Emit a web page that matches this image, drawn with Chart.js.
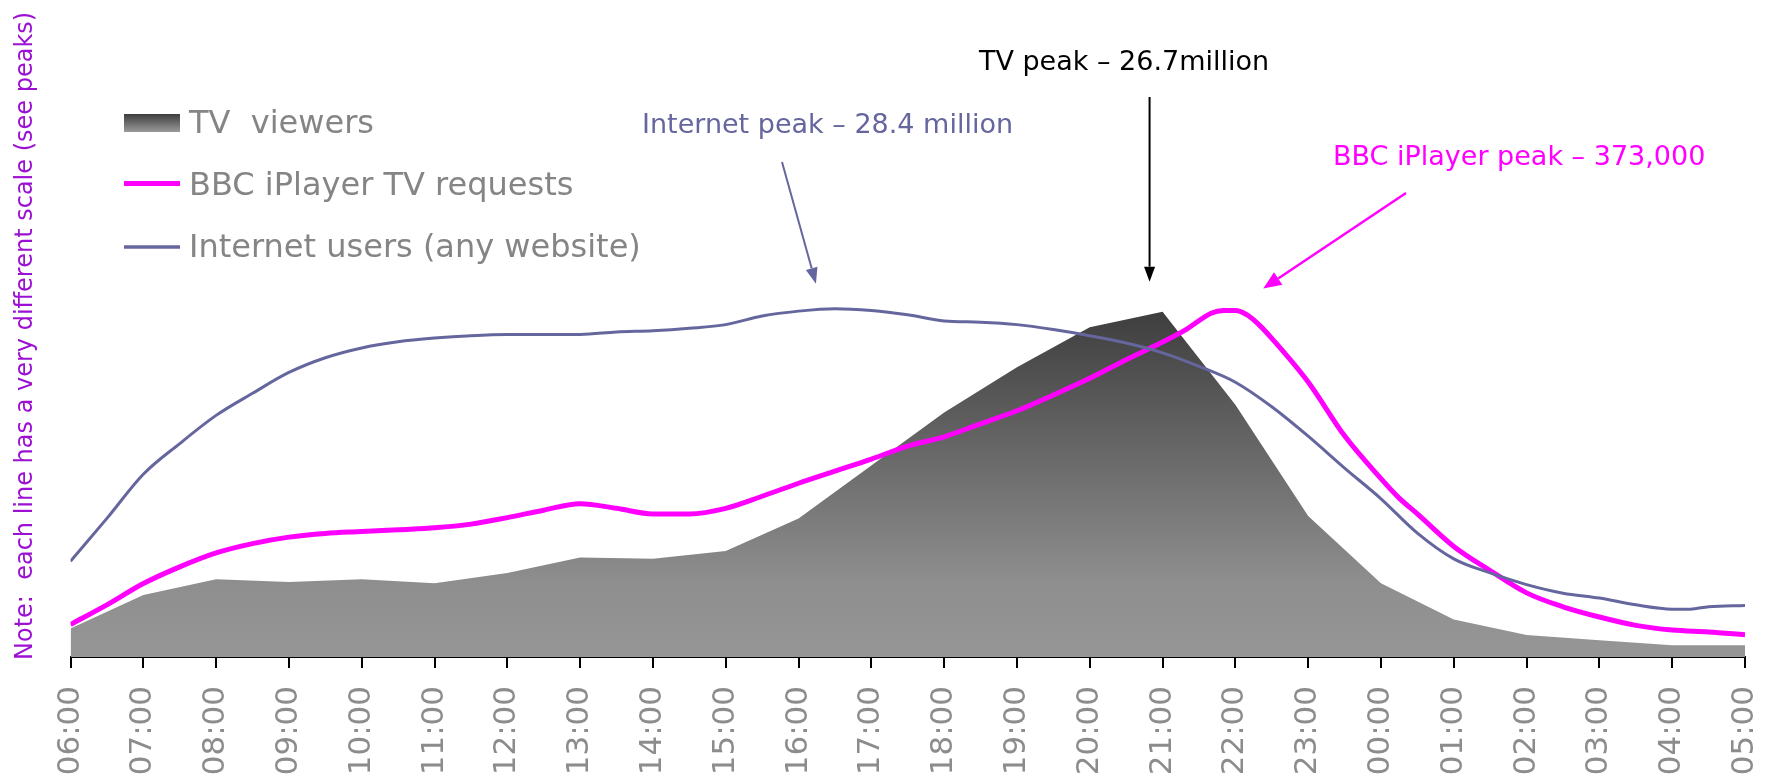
<!DOCTYPE html>
<html>
<head>
<meta charset="utf-8">
<script src="https://cdn.jsdelivr.net/npm/chart.js@4.4.1/dist/chart.umd.min.js"></script>
<style>
html,body{margin:0;padding:0;background:#ffffff;}
#wrap{width:1775px;height:780px;position:relative;overflow:hidden;}
</style>
</head>
<body>
<div id="wrap"><canvas id="c" width="1775" height="780"></canvas></div>
<script>
// ---------- data ----------
const hourLabels = ['06:00','07:00','08:00','09:00','10:00','11:00','12:00','13:00','14:00','15:00','16:00','17:00',
  '18:00','19:00','20:00','21:00','22:00','23:00','00:00','01:00','02:00','03:00','04:00','05:00'];

// TV viewers, millions, hourly
const tvViewers = [2.2, 4.8, 6.0, 5.8, 6.0, 5.7, 6.5, 7.7, 7.6, 8.2, 10.7, 14.8,
  18.9, 22.4, 25.5, 26.7, 19.5, 10.9, 5.7, 2.9, 1.7, 1.3, 0.9, 0.9];

// Internet users (any website), millions
const netTimes = ['06:00','06:30','07:00','07:30','08:00','08:30','09:00','09:30','10:00','10:30','11:00','11:30',
  '12:00','12:30','13:00','13:30','14:00','14:30','15:00','15:30','16:00','16:30','17:00','17:30',
  '18:00','18:30','19:00','19:30','20:00','20:30','21:00','21:30','22:00','22:30','23:00','23:30',
  '00:00','00:30','01:00','01:30','02:00','02:30','03:00','03:30','04:00','04:15','04:30','05:00'];
const netUsers = [7.8, 11.3, 14.9, 17.4, 19.7, 21.5, 23.2, 24.4, 25.2, 25.7, 26.0, 26.2,
  26.3, 26.3, 26.3, 26.5, 26.6, 26.8, 27.1, 27.8, 28.2, 28.4, 28.25, 27.9,
  27.4, 27.3, 27.1, 26.7, 26.2, 25.6, 24.8, 23.7, 22.4, 20.4, 18.0, 15.4,
  12.9, 10.1, 8.0, 6.85, 5.9, 5.2, 4.8, 4.25, 3.9, 3.9, 4.1, 4.2];

// BBC iPlayer TV requests, thousands
const iplayerTimes = ['06:00','06:30','07:00','07:30','08:00','08:30','09:00','09:30','10:00','10:30','11:00','11:30',
  '12:00','12:30','13:00','13:30','14:00','14:30','15:00','15:30','16:00','16:30','17:00','17:30',
  '18:00','18:30','19:00','19:30','20:00','20:30','21:00','21:20','21:40','21:50','22:00','22:10','22:20','22:30',
  '23:00','23:30','00:00','00:15','00:30','01:00','01:30','02:00','02:30','03:00','03:30','04:00','04:30','05:00'];
const iplayerRequests = [35, 56, 79, 97, 112, 122, 129, 133, 135, 137, 139, 143,
  150, 158, 165, 160, 154, 154, 160, 173, 187, 200, 213, 227,
  237, 251, 265, 282, 300, 320, 339, 353, 370, 373, 373, 368, 357, 343,
  296, 238, 192, 171, 154, 119, 93, 69, 54, 43, 34, 29, 27, 24];

const seriesLabels = ['TV  viewers', 'BBC iPlayer TV requests', 'Internet users (any website)'];
const peakTexts = ['TV peak \u2013 26.7million', 'Internet peak \u2013 28.4 million', 'BBC iPlayer peak \u2013 373,000'];
const noteText = 'Note:  each line has a very different scale (see peaks)';

// ---------- helpers ----------
function hoursFrom6(t) {
  const [h, m] = t.split(':').map(Number);
  return ((h - 6 + 24) % 24) + m / 60;
}
const FONT = '"DejaVu Sans", Verdana, sans-serif';
const NET_COLOR = '#66669e';
const IP_COLOR = '#ff00ff';
const NOTE_COLOR = '#9c10d4';
const LEGEND_TEXT = '#858585';

const tvPoints = tvViewers.map((v, i) => ({x: i, y: v}));
const netPoints = netUsers.map((v, i) => ({x: hoursFrom6(netTimes[i]), y: v}));
const ipPoints = iplayerRequests.map((v, i) => ({x: hoursFrom6(iplayerTimes[i]), y: v}));

function tvGradient(context) {
  const chart = context.chart;
  const area = chart.chartArea;
  if (!area) return '#8e8e8e';
  const top = chart.scales.yTV.getPixelForValue(Math.max(...tvViewers));
  const g = chart.ctx.createLinearGradient(0, top, 0, area.bottom);
  g.addColorStop(0, '#3e3e3e');
  g.addColorStop(0.78, '#8e8e8e');
  g.addColorStop(1, '#969696');
  return g;
}

function arrow(c, x1, y1, x2, y2, color, lw, headLen, headHalf) {
  const ang = Math.atan2(y2 - y1, x2 - x1);
  const bx = x2 - Math.cos(ang) * headLen, by = y2 - Math.sin(ang) * headLen;
  c.strokeStyle = color; c.fillStyle = color; c.lineWidth = lw;
  c.beginPath(); c.moveTo(x1, y1); c.lineTo(bx, by); c.stroke();
  c.beginPath();
  c.moveTo(x2, y2);
  c.lineTo(bx + Math.sin(ang) * headHalf, by - Math.cos(ang) * headHalf);
  c.lineTo(bx - Math.sin(ang) * headHalf, by + Math.cos(ang) * headHalf);
  c.closePath(); c.fill();
}

const annotations = {
  id: 'annotations',
  afterDraw(chart) {
    const c = chart.ctx;
    const xs = chart.scales.x;
    c.save();
    // rotated note on the left
    c.save();
    c.translate(32, 660);
    c.rotate(-Math.PI / 2);
    c.font = '24px ' + FONT;
    c.fillStyle = NOTE_COLOR;
    c.textAlign = 'left';
    c.textBaseline = 'alphabetic';
    c.fillText(noteText, 0, 0);
    c.restore();

    // legend
    const ds = chart.data.datasets;
    const sx = 124, sw = 56, tx = 189;
    const sg = c.createLinearGradient(0, 114, 0, 132);
    sg.addColorStop(0, '#3d3d3d'); sg.addColorStop(1, '#9a9a9a');
    c.fillStyle = sg;
    c.fillRect(sx, 114, sw, 18);
    c.lineCap = 'butt';
    c.strokeStyle = IP_COLOR; c.lineWidth = 5;
    c.beginPath(); c.moveTo(sx, 183.5); c.lineTo(sx + sw, 183.5); c.stroke();
    c.strokeStyle = NET_COLOR; c.lineWidth = 3.5;
    c.beginPath(); c.moveTo(sx, 247); c.lineTo(sx + sw, 247); c.stroke();
    c.font = '32px ' + FONT;
    c.fillStyle = LEGEND_TEXT;
    c.textAlign = 'left';
    c.textBaseline = 'alphabetic';
    const byLabel = (lab) => ds.find(d => d.label === lab).label;
    c.fillText(byLabel(seriesLabels[0]), tx, 133);
    c.fillText(byLabel(seriesLabels[1]), tx, 195);
    c.fillText(byLabel(seriesLabels[2]), tx, 257);

    // peak annotations
    c.font = '27px ' + FONT;
    // TV
    const tvMax = Math.max(...tvViewers);
    const tvPx = xs.getPixelForValue(tvViewers.indexOf(tvMax));
    const tvPy = chart.scales.yTV.getPixelForValue(tvMax);
    c.fillStyle = '#000000';
    c.textAlign = 'center';
    c.fillText(peakTexts[0], 1124, 70);
    arrow(c, tvPx - 13, 97, tvPx - 13, tvPy - 30, '#000000', 2, 15, 5.5);
    // Internet
    const netMax = Math.max(...netUsers);
    const netPx = xs.getPixelForValue(netPoints[netUsers.indexOf(netMax)].x);
    const netPy = chart.scales.yNet.getPixelForValue(netMax);
    c.fillStyle = NET_COLOR;
    c.textAlign = 'left';
    c.fillText(peakTexts[1], 642, 133);
    arrow(c, 782, 162, netPx - 19, netPy - 25, NET_COLOR, 2, 16, 6);
    // iPlayer
    const ipMax = Math.max(...iplayerRequests);
    const ipPx = xs.getPixelForValue(ipPoints[iplayerRequests.indexOf(ipMax)].x);
    const ipPy = chart.scales.yIP.getPixelForValue(ipMax);
    c.fillStyle = IP_COLOR;
    c.fillText(peakTexts[2], 1333, 165);
    arrow(c, 1406, 193, ipPx + 40, ipPy - 22, IP_COLOR, 2.5, 18, 7.5);
    c.restore();
  }
};

Chart.defaults.font.family = FONT;

new Chart(document.getElementById('c'), {
  type: 'line',
  data: {
    datasets: [
      {
        label: seriesLabels[2],
        data: netPoints,
        yAxisID: 'yNet',
        borderColor: NET_COLOR,
        borderWidth: 3,
        pointRadius: 0,
        fill: false,
        cubicInterpolationMode: 'monotone',
        order: 1
      },
      {
        label: seriesLabels[1],
        data: ipPoints,
        yAxisID: 'yIP',
        borderColor: IP_COLOR,
        borderWidth: 5,
        pointRadius: 0,
        fill: false,
        cubicInterpolationMode: 'monotone',
        order: 2
      },
      {
        label: seriesLabels[0],
        data: tvPoints,
        yAxisID: 'yTV',
        borderWidth: 0,
        borderColor: 'rgba(0,0,0,0)',
        backgroundColor: tvGradient,
        pointRadius: 0,
        fill: 'origin',
        tension: 0,
        order: 3
      }
    ]
  },
  options: {
    responsive: false,
    animation: false,
    devicePixelRatio: 1,
    layout: {padding: {left: 70.5, right: 30, top: 0, bottom: 4.7}},
    plugins: {legend: {display: false}, tooltip: {enabled: false}, title: {display: false}},
    scales: {
      x: {
        type: 'linear',
        min: 0,
        max: hourLabels.length - 1,
        offset: false,
        border: {display: true, color: '#000000', width: 2},
        grid: {display: true, drawOnChartArea: false, drawTicks: true, tickLength: 11, color: '#000000', lineWidth: 2},
        ticks: {
          stepSize: 1,
          maxTicksLimit: 40,
          autoSkip: false,
          minRotation: 90,
          maxRotation: 90,
          padding: 18,
          color: '#8c8c8c',
          font: {family: FONT, size: 31},
          callback: (v) => hourLabels[v] !== undefined ? hourLabels[v] : ''
        },
        afterFit: (scale) => {
          scale.paddingLeft = 0;
          scale.paddingRight = 0;
          scale.height = scale.height - scale.options.ticks.padding;
        }
      },
      yTV: {type: 'linear', display: false, min: 0, max: 50.8},
      yNet: {type: 'linear', display: false, min: 0, max: 53.57},
      yIP: {type: 'linear', display: false, min: 0, max: 707.2}
    }
  },
  plugins: [annotations]
});
</script>
</body>
</html>
